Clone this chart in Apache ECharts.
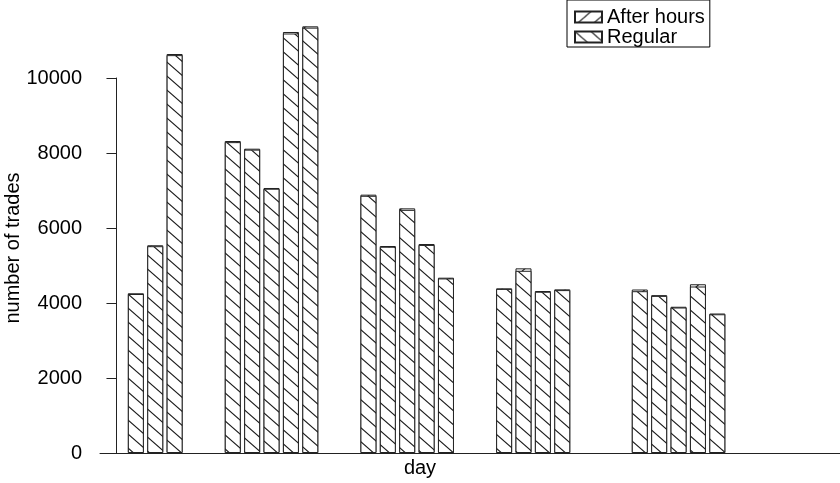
<!DOCTYPE html>
<html>
<head>
<meta charset="utf-8">
<script src="https://cdn.jsdelivr.net/npm/echarts@6/dist/echarts.min.js"></script>
<style>
html,body{margin:0;padding:0;background:#fff;}
#chart{width:840px;height:483px;}
</style>
</head>
<body>
<div id="chart"></div>
<script>
// ---- data ----
var days = [1, 2, 3, 6, 7, 8, 9, 10, 13, 14, 15, 16, 17, 20, 21, 22, 23, 27, 28, 29, 30, 31];
var regular = [4240, 5515, 10610, 8290, 8090, 7047, 11187, 11343, 6859, 5500, 6484, 5548, 4655, 4376, 4859, 4300, 4344, 4315, 4190, 3880, 4440, 3700];
var afterHours = [20, 25, 30, 30, 25, 20, 40, 35, 30, 20, 40, 25, 20, 15, 65, 20, 20, 45, 20, 20, 60, 20];
var seriesNames = ['After hours', 'Regular'];
var yTicks = [0, 2000, 4000, 6000, 8000, 10000];

function hatch(dir) {
  var w = 16, h = 14;
  var c = document.createElement('canvas');
  c.width = w; c.height = h;
  var ctx = c.getContext('2d');
  ctx.fillStyle = '#fff';
  ctx.fillRect(0, 0, w, h);
  ctx.strokeStyle = '#1a1a1a';
  ctx.lineWidth = 1.1;
  for (var k = -1; k <= 1; k++) {
    ctx.beginPath();
    if (dir === 'back') {
      ctx.moveTo(k * w - w * 0.5, -h * 0.5);
      ctx.lineTo(k * w + w * 1.5, h * 1.5);
    } else {
      ctx.moveTo(k * w - w * 0.5, h * 1.5);
      ctx.lineTo(k * w + w * 1.5, -h * 0.5);
    }
    ctx.stroke();
  }
  return { image: c, repeat: 'repeat' };
}

// stacked totals (Regular at bottom, After hours on top): the After hours
// segment is shown by drawing the total bar behind the Regular bar.
var totals = regular.map(function (v, i) { return v + afterHours[i]; });

function pairs(vals) {
  return vals.map(function (v, i) { return [days[i], v]; });
}

var chart = echarts.init(document.getElementById('chart'), null, { renderer: 'canvas' });
var font = 'Liberation Sans, Arial, Helvetica, sans-serif';
chart.setOption({
  animation: false,
  backgroundColor: '#fff',
  grid: { left: 100, right: 0, top: 78, bottom: 30, containLabel: false, outerBoundsMode: 'none' },
  legend: {
    orient: 'vertical',
    left: 567,
    top: 0,
    padding: [7, 5, 0, 7],
    itemGap: 0,
    itemWidth: 27,
    itemHeight: 11,
    borderColor: '#000',
    borderWidth: 1,
    icon: 'rect',
    textStyle: { fontFamily: font, fontSize: 20, color: '#000', lineHeight: 19 },
    data: seriesNames
  },
  xAxis: {
    type: 'value',
    min: -0.85,
    max: 37.33,
    name: 'day',
    nameLocation: 'middle',
    nameGap: 5,
    nameMoveOverlap: false,
    nameTextStyle: { fontFamily: font, fontSize: 20, color: '#000', padding: [0, 100, 0, 0] },
    axisLine: { show: true, lineStyle: { color: '#222', width: 1 } },
    axisTick: { show: false },
    axisLabel: { show: false },
    splitLine: { show: false }
  },
  yAxis: {
    type: 'value',
    min: yTicks[0],
    max: yTicks[yTicks.length - 1],
    interval: 2000,
    name: 'number of trades',
    nameLocation: 'middle',
    nameRotate: 90,
    nameGap: 77,
    nameMoveOverlap: false,
    nameTextStyle: { fontFamily: font, fontSize: 20, color: '#000', padding: [0, 0, 0, 35] },
    axisLine: { show: true, lineStyle: { color: '#222', width: 1 } },
    axisTick: { show: true, length: 10, lineStyle: { color: '#222' } },
    axisLabel: { fontFamily: font, fontSize: 20, color: '#000', margin: 18, formatter: function (v) { return String(v); } },
    splitLine: { show: false }
  },
  series: [
    {
      name: 'After hours',
      type: 'bar',
      clip: false,
      barWidth: 16,
      barGap: '-100%',
      data: pairs(totals),
      itemStyle: { color: hatch('fwd'), borderColor: '#222', borderWidth: 1 }
    },
    {
      name: 'Regular',
      type: 'bar',
      clip: false,
      barWidth: 16,
      barGap: '-100%',
      data: pairs(regular),
      itemStyle: { color: hatch('back'), borderColor: '#222', borderWidth: 1 }
    }
  ]
});
</script>
</body>
</html>
